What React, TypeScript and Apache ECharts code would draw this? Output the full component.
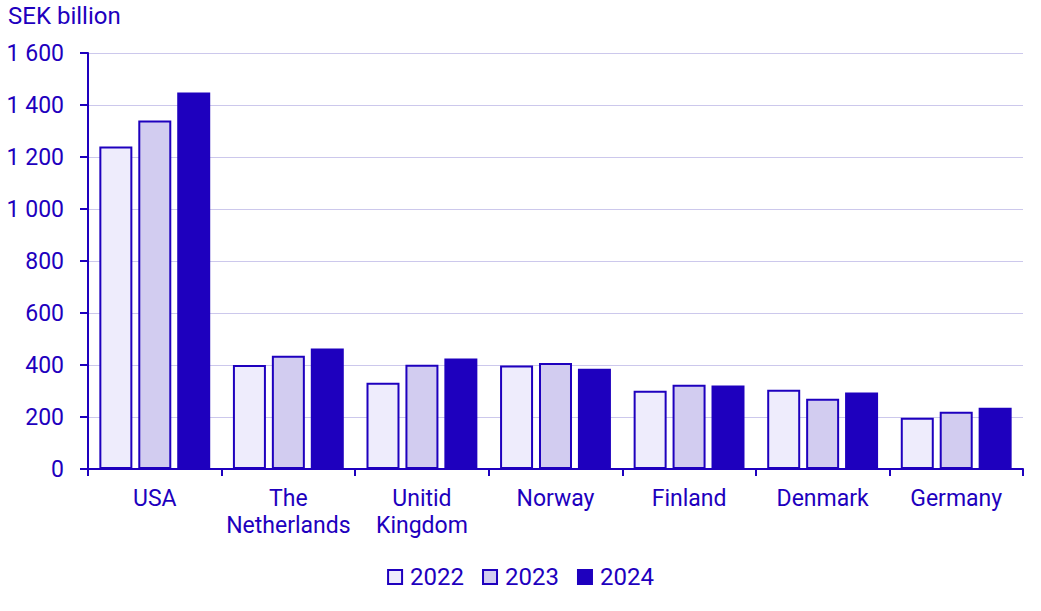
import React, { useEffect, useRef } from "react";
import * as echarts from "echarts";

const categories = ["USA", "The\nNetherlands", "Unitid\nKingdom", "Norway", "Finland", "Denmark", "Germany"];
const years = ["2022", "2023", "2024"];
const values2022 = [1240, 400, 332, 398, 301, 305, 197];
const values2023 = [1340, 436, 401, 408, 324, 270, 220];
const values2024 = [1448, 463, 425, 386, 321, 294, 236];
const yTicks = [0, 200, 400, 600, 800, 1000, 1200, 1400, 1600];

const DARK = "#1E00BE";
const FILLS = ["#EEECFC", "#D2CCF0", DARK];
const FONT = "Roboto";

export default function App() {
  const ref = useRef<HTMLDivElement>(null);
  useEffect(() => {
    if (!ref.current) return;
    const chart = echarts.init(ref.current, undefined, { renderer: "svg" });
    const data = [values2022, values2023, values2024];
    chart.setOption({
      animation: false,
      textStyle: { fontFamily: FONT, color: DARK },
      title: {
        text: "SEK billion",
        left: 8,
        top: 4,
        padding: 0,
        textStyle: { fontFamily: FONT, color: DARK, fontSize: 24, fontWeight: "normal" },
      },
      grid: { left: 88, right: 18, top: 53, bottom: 142, containLabel: false },
      legend: {
        bottom: 17,
        left: "center",
        itemWidth: 14,
        itemHeight: 14,
        itemGap: 18,
        textStyle: { fontFamily: FONT, color: DARK, fontSize: 24, padding: [0, 0, 0, 3] },
        data: years.map((y, i) => ({
          name: y,
          icon: "rect",
          itemStyle: { color: FILLS[i], borderColor: DARK, borderWidth: 2 },
        })),
      },
      xAxis: {
        type: "category",
        data: categories,
        axisLine: { lineStyle: { color: DARK, width: 2 } },
        axisTick: { show: true, length: 7, lineStyle: { color: DARK, width: 2 } },
        axisLabel: { color: DARK, fontSize: 23, fontFamily: FONT, margin: 16, lineHeight: 27, interval: 0 },
      },
      yAxis: {
        type: "value",
        min: 0,
        max: 1600,
        interval: 200,
        axisLine: { show: true, lineStyle: { color: DARK, width: 2 } },
        axisTick: { show: true, length: 8, lineStyle: { color: DARK, width: 2 } },
        splitLine: { lineStyle: { color: "#CCC8EC", width: 1 } },
        axisLabel: {
          color: DARK,
          fontSize: 23,
          fontFamily: FONT,
          margin: 24,
          formatter: (v: number) => (yTicks.includes(v) ? String(v).replace(/\B(?=(\d{3})+(?!\d))/g, " ") : ""),
        },
      },
      series: years.map((y, i) => ({
        name: y,
        type: "bar",
        data: data[i],
        barGap: "18%",
        barCategoryGap: "17%",
        itemStyle: { color: FILLS[i], borderColor: DARK, borderWidth: i === 2 ? 0 : 2 },
      })),
    });
    return () => chart.dispose();
  }, []);
  return <div ref={ref} style={{ position: "absolute", left: 0, top: 0, width: 1041, height: 611 }} />;
}
